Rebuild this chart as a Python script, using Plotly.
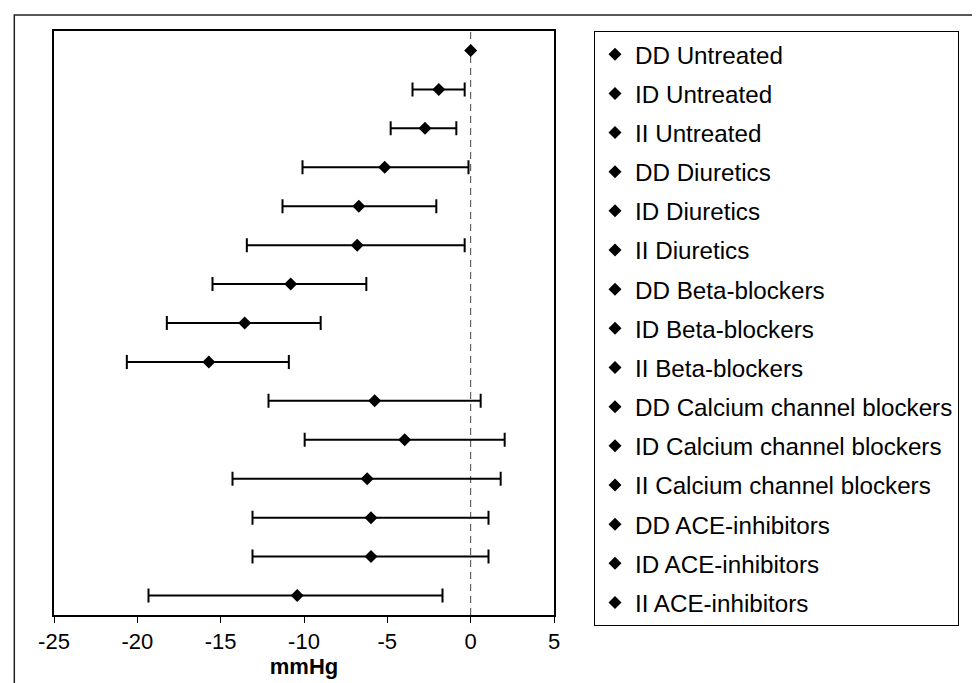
import plotly.graph_objects as go

categories = ["DD Untreated", "ID Untreated", "II Untreated",
              "DD Diuretics", "ID Diuretics", "II Diuretics",
              "DD Beta-blockers", "ID Beta-blockers", "II Beta-blockers",
              "DD Calcium channel blockers", "ID Calcium channel blockers",
              "II Calcium channel blockers",
              "DD ACE-inhibitors", "ID ACE-inhibitors", "II ACE-inhibitors"]
means = [0.0, -1.91, -2.74, -5.16, -6.71, -6.81, -10.80, -13.56, -15.71,
         -5.76, -3.96, -6.21, -5.98, -5.98, -10.41]
lower = [0.0, -3.49, -4.80, -10.09, -11.29, -13.43, -15.49, -18.23, -20.63,
         -12.13, -9.96, -14.29, -13.09, -13.09, -19.33]
upper = [0.0, -0.36, -0.86, -0.13, -2.06, -0.36, -6.26, -9.00, -10.91,
         0.60, 2.04, 1.80, 1.07, 1.07, -1.69]
x_ticks = [-25, -20, -15, -10, -5, 0, 5]
x_title = "mmHg"

FONT = "Arial, Liberation Sans, sans-serif"

fig = go.Figure()
for i, name in enumerate(categories):
    has_err = upper[i] != lower[i]
    fig.add_trace(go.Scatter(
        x=[means[i]], y=[name], name=name, mode="markers",
        legendgroup=name,
        marker=dict(symbol="diamond", size=10, color="black"),
        error_x=dict(type="data", symmetric=False,
                     array=[upper[i] - means[i]],
                     arrayminus=[means[i] - lower[i]],
                     color="black", thickness=2, width=7,
                     visible=has_err),
    ))

fig.add_shape(type="line", xref="x", yref="paper", x0=0, x1=0, y0=0, y1=1,
              line=dict(color="#444", width=1, dash="7px,5px"), layer="below")
# outer frame
fig.add_shape(type="rect", xref="paper", yref="paper",
              x0=-0.0794, x1=1.95, y0=-0.2, y1=1.0274,
              line=dict(color="#222", width=1.5), layer="below")

fig.update_layout(
    width=980, height=683,
    margin=dict(l=46, r=434, t=23, b=76),
    paper_bgcolor="white", plot_bgcolor="white",
    font=dict(family=FONT, color="black"),
    showlegend=True,
    legend=dict(x=1.08, y=1.0, xanchor="left", yanchor="top",
                bordercolor="black", borderwidth=1, bgcolor="white",
                font=dict(size=24.2, family=FONT, color="black"),
                tracegroupgap=4.7, maxheight=660),
    xaxis=dict(range=[-25, 5], tickvals=x_ticks, ticktext=[str(v) for v in x_ticks],
               showgrid=False, zeroline=False, showline=True, mirror=True,
               linecolor="black", linewidth=2, ticks="outside", ticklen=6,
               tickwidth=1, tickcolor="black",
               tickfont=dict(size=22, family=FONT),
               title=dict(text="<b>" + x_title + "</b>",
                          font=dict(size=22, family=FONT), standoff=4)),
    yaxis=dict(categoryorder="array", categoryarray=categories,
               range=[14.5, -0.5], showticklabels=False, ticks="",
               showgrid=False, zeroline=False, showline=True, mirror=True,
               linecolor="black", linewidth=2),
)

fig.write_html("out.html")
